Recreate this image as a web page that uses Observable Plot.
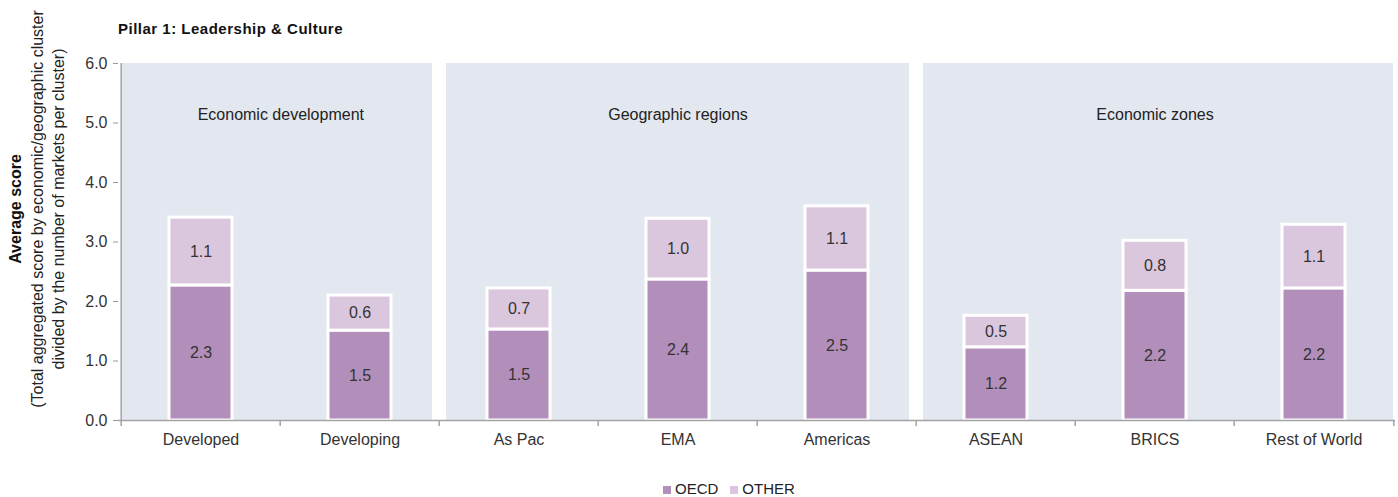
<!DOCTYPE html>
<html>
<head>
<meta charset="utf-8">
<script src="https://cdn.jsdelivr.net/npm/d3@7"></script>
<script src="https://cdn.jsdelivr.net/npm/@observablehq/plot@0.6"></script>
<style>
  html, body { margin: 0; padding: 0; background: #fff; }
  body { font-family: "Liberation Sans", Arial, sans-serif; }
  #wrap { position: relative; width: 1398px; height: 497px; overflow: hidden; }
  #title { position: absolute; left: 118px; top: 21px; font-size: 15px; line-height: 15px; font-weight: bold; color: #111; letter-spacing: 0.5px; }
  #legend { position: absolute; left: 663px; top: 480px; display: flex; align-items: center; font-size: 15px; line-height: 17px; color: #222; }
  #legend .item { display: flex; align-items: center; margin-right: 12px; }
  #legend .sw { width: 8px; height: 8px; margin-right: 4px; margin-top: 2px; }
  svg [aria-label="y-axis tick"], svg .tick line { stroke: #999; }
</style>
</head>
<body>
<div id="wrap">
  <div id="chart"></div>
  <div id="title">Pillar 1: Leadership &amp; Culture</div>
  <div id="legend"></div>
</div>
<script>
// ---- data ----
const categories = ["Developed", "Developing", "As Pac", "EMA", "Americas", "ASEAN", "BRICS", "Rest of World"];
const clusterOf = ["Economic development", "Economic development", "Geographic regions", "Geographic regions", "Geographic regions", "Economic zones", "Economic zones", "Economic zones"];
const clusterNames = ["Economic development", "Geographic regions", "Economic zones"];
const oecdValues = [2.27, 1.51, 1.53, 2.37, 2.52, 1.23, 2.18, 2.22];
const otherValues = [1.14, 0.59, 0.69, 1.02, 1.08, 0.53, 0.84, 1.07];
const seriesNames = ["OECD", "OTHER"];
const seriesColors = ["#b28eba", "#dbc7dd"];
const yTicks = [0, 1, 2, 3, 4, 5, 6];
const yMax = 6;
const yLabelTitle = ["Average score"];
const yLabelSub = ["(Total aggregated score by economic/geographic cluster", "divided by the number of markets per cluster)"];

// ---- derived tables ----
const rows = categories.flatMap((c, i) => [
  {cat: c, series: seriesNames[0], value: oecdValues[i]},
  {cat: c, series: seriesNames[1], value: otherValues[i]}
]);
const panels = categories.map((c, i) => ({
  cat: c,
  first: i > 0 && clusterOf[i] !== clusterOf[i - 1],
  last: i < categories.length - 1 && clusterOf[i] !== clusterOf[i + 1]
}));
// label anchor: middle category of each cluster (even-sized clusters get shifted half a band)
const clusterLabels = clusterNames.map(name => {
  const idx = categories.map((c, i) => i).filter(i => clusterOf[i] === name);
  const mid = (idx[0] + idx[idx.length - 1]) / 2;
  return {name, cat: categories[Math.floor(mid)], half: mid % 1 !== 0};
});

const W = 1398, H = 470, ML = 118, MR = 3, MT = 63, MB = 50;
const bw = (W - ML - MR) / categories.length;
const panelColor = "#e3e7f0";
const axisColor = "#a3a3a3";
const gap = 7;

const chart = Plot.plot({
  width: W, height: H,
  marginLeft: ML, marginRight: MR, marginTop: MT, marginBottom: MB,
  style: {fontFamily: "'Liberation Sans', Arial, sans-serif", fontSize: "16px", color: "#333", background: "transparent"},
  x: {domain: categories, padding: 0, tickSize: 0, tickPadding: 13, label: null},
  y: {domain: [0, yMax], ticks: yTicks, tickFormat: d3.format(".1f"), tickSize: 5, tickPadding: 6, label: null},
  color: {domain: seriesNames, range: seriesColors},
  marks: [
    // panel backgrounds
    Plot.barY(panels.filter(d => !d.first && !d.last), {x: "cat", y: () => yMax, fill: panelColor}),
    Plot.barY(panels.filter(d => d.first), {x: "cat", y: () => yMax, fill: panelColor, insetLeft: gap}),
    Plot.barY(panels.filter(d => d.last), {x: "cat", y: () => yMax, fill: panelColor, insetRight: gap}),
    // cluster labels
    Plot.text(clusterLabels.filter(d => !d.half), {x: "cat", text: "name", frameAnchor: "top", dy: 45, fill: "#222", fontSize: 16}),
    Plot.text(clusterLabels.filter(d => d.half), {x: "cat", text: "name", frameAnchor: "top", dy: 45, dx: bw / 2, fill: "#222", fontSize: 16}),
    // stacked bars
    Plot.barY(rows, {x: "cat", y: "value", fill: "series", stroke: "white", strokeWidth: 3, insetLeft: 48, insetRight: 48}),
    Plot.text(rows, Plot.stackY({x: "cat", y: "value", text: d => d3.format(".1f")(d.value), fill: "#333", fontSize: 16})),
    // axis lines & boundary ticks
    Plot.ruleY([0], {stroke: axisColor, strokeWidth: 1.5}),
    Plot.ruleX(categories.slice(0, 1), {x: d => d, dx: -bw / 2, stroke: axisColor, strokeWidth: 1.5}),
    Plot.ruleX(categories, {x: d => d, y1: 0, y2: 0, insetBottom: -6, dx: -bw / 2, stroke: axisColor, strokeWidth: 1.5}),
    Plot.ruleX(categories.slice(-1), {x: d => d, y1: 0, y2: 0, insetBottom: -6, dx: bw / 2, stroke: axisColor, strokeWidth: 1.5}),
    // y-axis title (rotated)
    Plot.text(yLabelTitle, {text: d => d, frameAnchor: "left", textAnchor: "middle", rotate: -90, dx: -103, dy: -33, fontWeight: "bold", fill: "#111", fontSize: 16}),
    Plot.text(yLabelSub.slice(0, 1), {text: d => d, frameAnchor: "left", textAnchor: "middle", rotate: -90, dx: -81, dy: -33, fill: "#222", fontSize: 16}),
    Plot.text(yLabelSub.slice(1), {text: d => d, frameAnchor: "left", textAnchor: "middle", rotate: -90, dx: -60, dy: -33, fill: "#222", fontSize: 16})
  ]
});
document.getElementById("chart").appendChild(chart);

// legend
const legend = document.getElementById("legend");
seriesNames.forEach((s, i) => {
  const item = document.createElement("div");
  item.className = "item";
  const sw = document.createElement("span");
  sw.className = "sw";
  sw.style.background = seriesColors[i];
  const t = document.createElement("span");
  t.textContent = s;
  item.appendChild(sw);
  item.appendChild(t);
  legend.appendChild(item);
});
</script>
</body>
</html>
